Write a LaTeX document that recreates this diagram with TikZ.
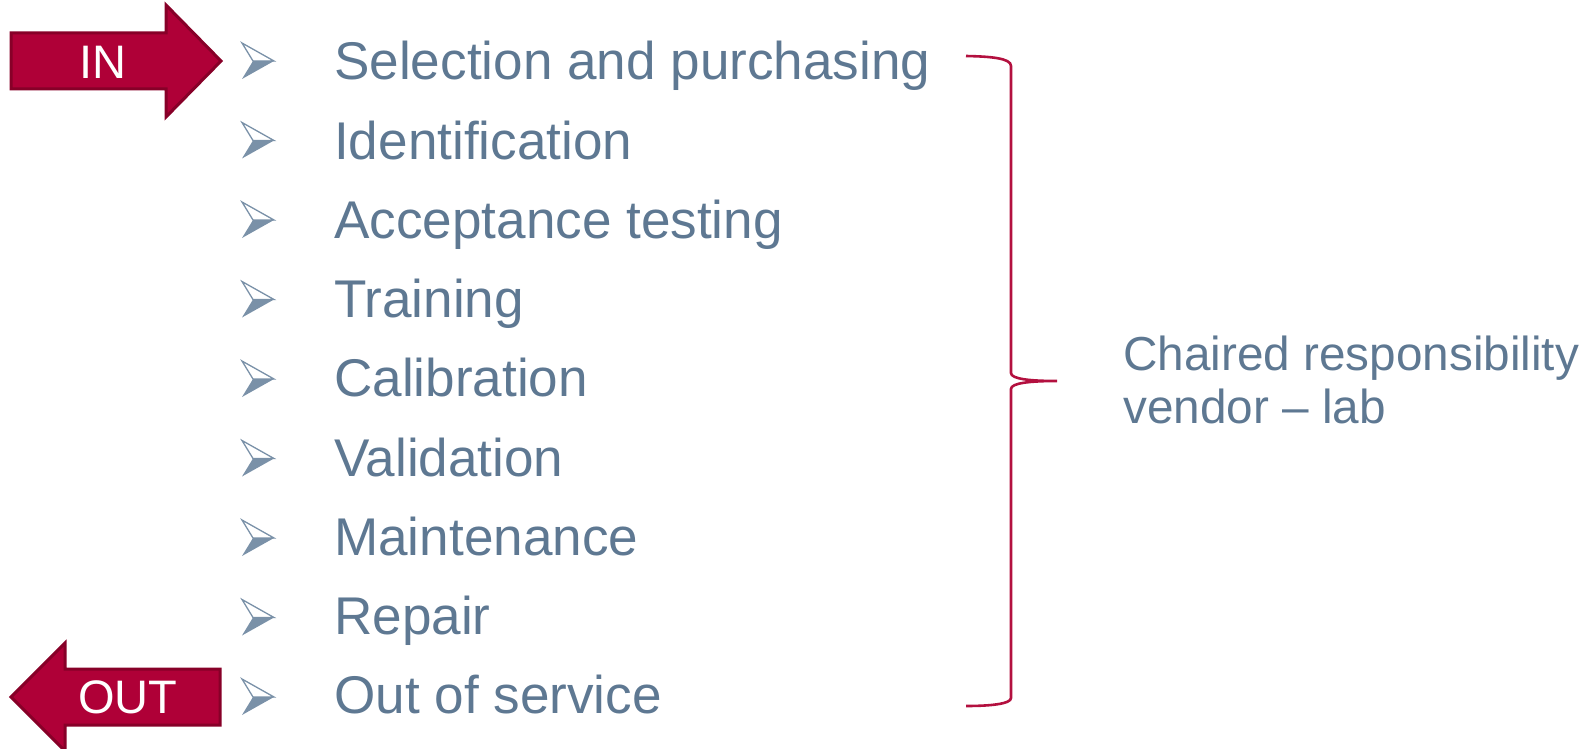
\documentclass[tikz,border=0pt]{standalone}
\usepackage{fontspec}
\setmainfont{Liberation Sans}
\definecolor{itemtext}{HTML}{5E7892}
\definecolor{bulcol}{HTML}{7A91A8}
\definecolor{arrowfill}{HTML}{AF0037}
\definecolor{arrowedge}{HTML}{870028}
\definecolor{bracecol}{HTML}{B3103F}
\tikzset{
  itemlabel/.style={anchor=base west, inner sep=0pt, text=itemtext,
    font=\fontsize{53.1}{60}\selectfont},
  biglabel/.style={anchor=base west, inner sep=0pt, text=itemtext, align=left,
    font=\fontsize{47.7}{53}\selectfont},
  arrowtext/.style={inner sep=0pt, text=white, font=\fontsize{47}{50}\selectfont},
  bigarrow/.style={fill=arrowfill, draw=arrowedge, line width=3pt, line join=miter},
  bul/.pic={
    \fill[bulcol] (-3,0) -- (18,0) -- (-14,18) -- cycle;
    \draw[bulcol, line width=1.3pt, line join=miter] (-3,0) -- (-14,-18) -- (18,0) -- cycle;
  }
}
\begin{document}
\begin{tikzpicture}[x=1pt, y=-1pt]
  \useasboundingbox (0,0) rectangle (1585,749);

  % entry and exit arrows
  \draw[bigarrow] (11,33) -- (166,33) -- (166,5) -- (221,61) -- (166,117) -- (166,89) -- (11,89) -- cycle;
  \node[arrowtext] (in) at (103,62) {IN};
  \draw[bigarrow] (220,669) -- (65,669) -- (65,643) -- (11,697) -- (65,751) -- (65,725) -- (220,725) -- cycle;
  \node[arrowtext] (out) at (128,697) {OUT};

  % bullet list
  \foreach \txt [count=\k from 0] in {Selection and purchasing, Identification,
      Acceptance testing, Training, Calibration, Validation, Maintenance,
      Repair, Out of service} {
    \pic at (256, 61+79.5*\k) {bul};
    \node[itemlabel] (item\k) at (334, 80+79.2*\k) {\txt};
  }

  % curly brace grouping all items
  \draw[bracecol, line width=2.6pt]
    (966,56) .. controls (990,56.5) and (1011,58) .. (1011,66)
    -- (1011,373) .. controls (1011,379) and (1030,381) .. (1057,381)
    .. controls (1030,381) and (1011,383) .. (1011,389)
    -- (1011,698) .. controls (1011,704) and (990,706) .. (966,706);

  % the base anchor of a two-line node sits on its last line
  \node[biglabel] (resp) at (1123,423) {Chaired responsibility\\vendor – lab};
\end{tikzpicture}
\end{document}
